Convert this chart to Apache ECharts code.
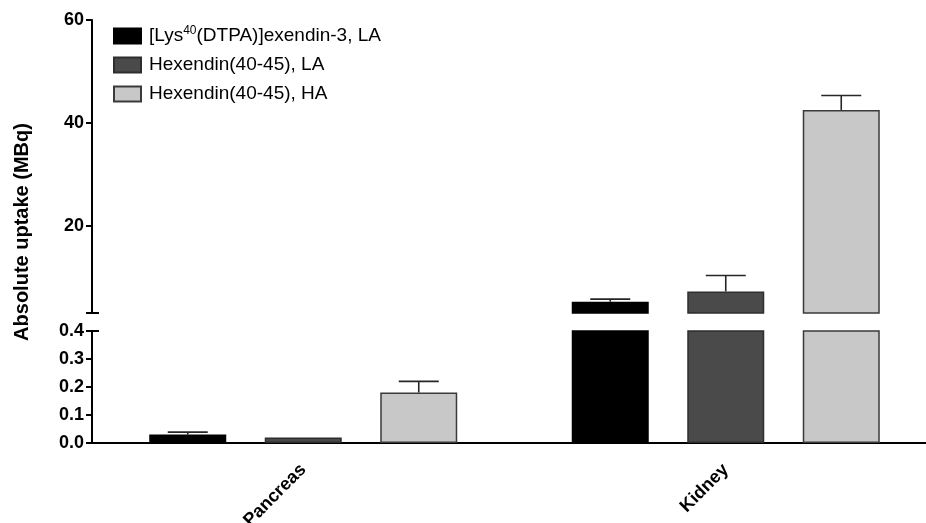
<!DOCTYPE html>
<html>
<head>
<meta charset="utf-8">
<script src="https://cdn.jsdelivr.net/npm/echarts@6/dist/echarts.min.js"></script>
<style>
  html, body { margin: 0; padding: 0; background: #fff; }
  #chart { width: 926px; height: 523px; }
</style>
</head>
<body>
<div id="chart"></div>
<script>
// Organs on the x axis
const categories = ['Pancreas', 'Kidney'];

// Series names (legend order)
const seriesNames = [
  '[Lys40(DTPA)]exendin-3, LA',
  'Hexendin(40-45), LA',
  'Hexendin(40-45), HA'
];

// Mean absolute uptake (MBq) per organ, and SEM
const lysMean = [0.03, 5.2];
const lysErr = [0.009, 0.5];
const hexLaMean = [0.02, 7.2];
const hexLaErr = [0, 3.1];
const hexHaMean = [0.18, 42.5];
const hexHaErr = [0.04, 2.8];

// Broken y axis: lower segment and upper segment
const lowerTicks = [0, 0.1, 0.2, 0.3, 0.4];
const upperTicks = [20, 40, 60];
const LOWER_MIN = 0, LOWER_MAX = 0.4;
const UPPER_MIN = 3, UPPER_MAX = 60;

const means = [lysMean, hexLaMean, hexHaMean];
const errs = [lysErr, hexLaErr, hexHaErr];
const fills = ['#000000', '#4a4a4a', '#c8c8c8'];
const borders = ['#000000', '#2e2e2e', '#3a3a3a'];

const BAR_W = 77;
const BAR_GAP = 38.5;
const FONT = '"Liberation Sans", Arial, sans-serif';

const chart = echarts.init(document.getElementById('chart'), null, { renderer: 'canvas' });

function errorSeries(k, gridIdx, lo, hi) {
  const data = [];
  means[k].forEach((m, i) => {
    if (m >= lo && m <= hi && errs[k][i] > 0) data.push([i, m, errs[k][i]]);
  });
  const offset = (k - 1) * (BAR_W + BAR_GAP);
  return {
    type: 'custom',
    xAxisIndex: gridIdx,
    yAxisIndex: gridIdx,
    silent: true,
    z: 1,
    data: data,
    renderItem: function (params, api) {
      const base = api.coord([api.value(0), api.value(1)]);
      const top = api.coord([api.value(0), api.value(1) + api.value(2)]);
      const x = base[0] + offset;
      const style = { stroke: '#262626', lineWidth: 1.6 };
      return {
        type: 'group',
        children: [
          { type: 'line', shape: { x1: x, y1: base[1], x2: x, y2: top[1] }, style: style },
          { type: 'line', shape: { x1: x - 20, y1: top[1], x2: x + 20, y2: top[1] }, style: style }
        ]
      };
    }
  };
}

const series = [];
// Upper segment bars
seriesNames.forEach((name, k) => {
  series.push({
    name: name,
    type: 'bar',
    xAxisIndex: 0,
    yAxisIndex: 0,
    barWidth: BAR_W,
    barGap: (BAR_GAP / BAR_W * 100) + '%',
    z: 2,
    itemStyle: { color: fills[k], borderColor: borders[k], borderWidth: 1.5 },
    data: means[k].map(v => (v < UPPER_MIN ? '-' : v))
  });
});
// Lower segment bars (tall values clip at the top of the segment)
seriesNames.forEach((name, k) => {
  series.push({
    name: name,
    type: 'bar',
    xAxisIndex: 1,
    yAxisIndex: 1,
    barWidth: BAR_W,
    barGap: (BAR_GAP / BAR_W * 100) + '%',
    z: 2,
    clip: true,
    itemStyle: { color: fills[k], borderColor: borders[k], borderWidth: 1.5 },
    data: means[k].slice()
  });
});
for (let k = 0; k < 3; k++) series.push(errorSeries(k, 0, UPPER_MIN, UPPER_MAX));
for (let k = 0; k < 3; k++) series.push(errorSeries(k, 1, LOWER_MIN, LOWER_MAX));

const axisLineStyle = { color: '#000', width: 2 };
const tickStyle = { color: '#000', width: 2 };
const tickLabel = { color: '#000', fontFamily: FONT, fontWeight: 'bold', fontSize: 18 };

const option = {
  backgroundColor: '#fff',
  animation: false,
  textStyle: { fontFamily: FONT },
  legend: {
    data: seriesNames,
    orient: 'vertical',
    left: 108,
    top: 20,
    itemWidth: 27,
    itemHeight: 15,
    itemGap: 10,
    icon: 'rect',
    selectedMode: false,
    textStyle: {
      fontFamily: FONT,
      fontSize: 19,
      color: '#000',
      padding: [0, 0, 0, 3],
      rich: {
        n: { fontFamily: FONT, fontSize: 19, color: '#000' },
        sup: { fontFamily: FONT, fontSize: 12, color: '#000', verticalAlign: 'bottom', padding: [0, 0, 10, 0] }
      }
    },
    formatter: function (name) {
      if (name.indexOf('[Lys40') === 0) {
        return '{n|[Lys}{sup|40}{n|(DTPA)]exendin-3, LA}';
      }
      return name;
    }
  },
  grid: [
    { left: 92, top: 20, width: 845, height: 293, outerBoundsMode: 'none' },
    { left: 92, top: 331, width: 845, height: 112, outerBoundsMode: 'none' }
  ],
  xAxis: [
    {
      type: 'category', gridIndex: 0, data: categories,
      show: false
    },
    {
      type: 'category', gridIndex: 1, data: categories,
      axisLine: { lineStyle: axisLineStyle },
      axisTick: { alignWithLabel: true, length: 6, lineStyle: tickStyle },
      axisLabel: Object.assign({ rotate: 45, margin: 24 }, tickLabel)
    }
  ],
  yAxis: [
    {
      type: 'value', gridIndex: 0, min: UPPER_MIN, max: UPPER_MAX,
      axisLine: { show: true, lineStyle: axisLineStyle },
      axisTick: { show: true, length: 6, customValues: [UPPER_MIN].concat(upperTicks), lineStyle: tickStyle },
      axisLabel: Object.assign({ customValues: upperTicks, margin: 8 }, tickLabel),
      splitLine: { show: false }
    },
    {
      type: 'value', gridIndex: 1, min: LOWER_MIN, max: LOWER_MAX, interval: 0.1,
      axisLine: { show: true, lineStyle: axisLineStyle },
      axisTick: { show: true, length: 6, customValues: lowerTicks, lineStyle: tickStyle },
      axisLabel: Object.assign({ customValues: lowerTicks, margin: 8, formatter: v => v.toFixed(1) }, tickLabel),
      splitLine: { show: false }
    },
    // Break caps: short inward stubs where each axis segment ends at the break
    {
      type: 'value', gridIndex: 0, min: UPPER_MIN, max: UPPER_MAX, position: 'left',
      axisLine: { show: false },
      axisTick: { show: true, inside: true, length: 7, customValues: [UPPER_MIN], lineStyle: tickStyle },
      axisLabel: { show: false },
      splitLine: { show: false }
    },
    {
      type: 'value', gridIndex: 1, min: LOWER_MIN, max: LOWER_MAX, position: 'left',
      axisLine: { show: false },
      axisTick: { show: true, inside: true, length: 7, customValues: [LOWER_MAX], lineStyle: tickStyle },
      axisLabel: { show: false },
      splitLine: { show: false }
    }
  ],
  graphic: [{
    type: 'text',
    x: 22,
    y: 232,
    rotation: Math.PI / 2,
    style: {
      text: 'Absolute uptake (MBq)',
      fontFamily: FONT, fontWeight: 'bold', fontSize: 20, fill: '#000',
      align: 'center', verticalAlign: 'middle'
    }
  }],
  series: series
};

chart.setOption(option);
</script>
</body>
</html>
